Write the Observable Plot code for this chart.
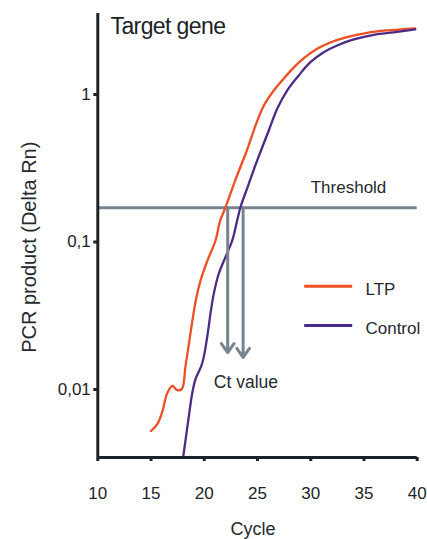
<!DOCTYPE html>
<html><head><meta charset="utf-8">
<script src="https://cdn.jsdelivr.net/npm/d3@7"></script>
<script src="https://cdn.jsdelivr.net/npm/@observablehq/plot@0.6"></script>
<style>
html,body{margin:0;padding:0;background:#fff;}
#chart svg{display:block;}
</style></head><body><div id="chart"></div>
<script>
// ---- data ----
const ltpCycle = [15.0, 15.6, 16.05, 16.5, 17.0, 17.45, 17.9, 18.23, 18.54, 18.86, 19.2, 19.65, 20.3, 21.05, 21.5, 22.0, 22.9, 24.0, 24.9, 25.6, 26.5, 27.5, 28.4, 29.3, 30.6, 31.9, 33.4, 35.3, 37.2, 39.8];
const ltpValue = [0.00523, 0.00585, 0.00702, 0.00936, 0.0106, 0.0099, 0.0101, 0.0143, 0.0200, 0.0285, 0.0401, 0.0548, 0.0749, 0.102, 0.140, 0.172, 0.261, 0.417, 0.64, 0.842, 1.056, 1.29, 1.52, 1.75, 2.04, 2.26, 2.45, 2.62, 2.72, 2.81];
const controlCycle = [17.95, 18.54, 18.86, 19.17, 19.8, 20.27, 20.58, 20.89, 21.36, 21.99, 22.62, 23.09, 23.4, 24.18, 24.97, 26.06, 26.85, 27.78, 28.87, 29.97, 31.22, 32.48, 34.04, 35.92, 37.79, 39.83];
const controlValue = [0.0032, 0.00649, 0.00935, 0.0117, 0.0150, 0.0225, 0.0326, 0.0445, 0.0609, 0.0789, 0.102, 0.140, 0.172, 0.248, 0.357, 0.570, 0.800, 1.064, 1.345, 1.655, 1.936, 2.15, 2.36, 2.54, 2.64, 2.76];

const seriesNames = ["LTP", "Control"];
const seriesColors = ["#f04e23", "#4b2b86"];

const xTicks = [10, 15, 20, 25, 30, 35, 40];
const yTicks = [1, 0.1, 0.01];
const yTickLabels = ["1", "0,1", "0,01"];
const xDomain = [10, 40];
const yDomain = [0.00346, 3.54];

const threshold = 0.171;
const ctCycles = [22.2, 23.65];
const ctArrowEnds = [0.0178, 0.0165];

const titleText = "Target gene";
const xLabel = "Cycle";
const yLabel = "PCR product (Delta Rn)";
const thresholdLabel = "Threshold";
const ctLabel = "Ct value";

// annotation anchors (data units)
const thresholdLabelAt = {cycle: 30, value: threshold};
const ctLabelAt = {cycle: 20.9, value: 0.0112};
const legendCycles = {x1: 29.43, x2: 33.94, text: 35.14};
const legendValues = [0.0501, 0.0272];

// ---- build tables ----
const ltp = ltpCycle.map((c, i) => ({cycle: c, value: ltpValue[i], series: "LTP"}));
const control = controlCycle.map((c, i) => ({cycle: c, value: controlValue[i], series: "Control"}));
const arrows = ctCycles.map((c, i) => ({cycle: c, start: threshold, end: ctArrowEnds[i]}));
const legend = seriesNames.map((n, i) => ({name: n, color: seriesColors[i], value: legendValues[i],
  x1: legendCycles.x1, x2: legendCycles.x2, tx: legendCycles.text}));

const axisColor = "#1c2326";
const textColor = "#262a2d";
const greyColor = "#78848e";

const chart = Plot.plot({
  width: 427, height: 539,
  marginLeft: 97.3, marginRight: 10.3, marginTop: 13, marginBottom: 82,
  style: {fontFamily: "'Liberation Sans', Arial, sans-serif", fontSize: "17px", color: textColor, background: "white", overflow: "visible"},
  x: {domain: xDomain, axis: null},
  y: {type: "log", domain: yDomain, axis: null},
  marks: [
    Plot.ruleY([threshold], {stroke: greyColor, strokeWidth: 3}),
    Plot.line(ltp, {x: "cycle", y: "value", stroke: seriesColors[0], strokeWidth: 2.3, curve: "catmull-rom", clip: true}),
    Plot.line(control, {x: "cycle", y: "value", stroke: seriesColors[1], strokeWidth: 2.3, curve: "catmull-rom", clip: true}),
    Plot.arrow(arrows, {x1: "cycle", y1: "start", x2: "cycle", y2: "end", stroke: greyColor, strokeWidth: 3, headLength: 5.5, headAngle: 70, bend: 0}),
    Plot.axisX({ticks: xTicks, tickSize: 4, tickPadding: 25, fontSize: 17, strokeWidth: 3, color: axisColor, label: null, tickFormat: d => String(d)}),
    Plot.axisY({ticks: yTicks, tickSize: 4, tickPadding: 3, fontSize: 17, strokeWidth: 3, color: axisColor, label: null,
      tickFormat: d => yTickLabels[yTicks.indexOf(d)]}),
    Plot.ruleX([xDomain[0]], {stroke: axisColor, strokeWidth: 3}),
    Plot.ruleY([yDomain[0]], {stroke: axisColor, strokeWidth: 3}),
    Plot.text([titleText], {text: d => d, frameAnchor: "top-left", textAnchor: "start", lineAnchor: "middle", dx: 12.7, dy: 12.9, fontSize: 23, fill: axisColor}),
    Plot.text([yLabel], {text: d => d, frameAnchor: "left", rotate: -90, textAnchor: "middle", lineAnchor: "middle", dx: -68.7, dy: 11.7, fontSize: 20, fill: textColor}),
    Plot.text([xLabel], {text: d => d, frameAnchor: "bottom", textAnchor: "middle", lineAnchor: "middle", dx: -4.5, dy: 71.5, fontSize: 18, fill: textColor}),
    Plot.text([thresholdLabelAt], {x: "cycle", y: "value", text: () => thresholdLabel, textAnchor: "start", lineAnchor: "middle", dy: -19.7, fontSize: 17, fill: textColor}),
    Plot.text([ctLabelAt], {x: "cycle", y: "value", text: () => ctLabel, textAnchor: "start", lineAnchor: "middle", fontSize: 17.5, fill: textColor}),
    Plot.ruleY(legend, {y: "value", x1: "x1", x2: "x2", stroke: "color", strokeWidth: 3}),
    Plot.text(legend, {x: "tx", y: "value", text: "name", textAnchor: "start", lineAnchor: "middle", dy: 3, fontSize: 17, fill: textColor})
  ]
});
d3.select(chart).selectAll("text").filter(function() { return this.textContent === titleText; }).style("letter-spacing", "-0.6px");
document.getElementById("chart").appendChild(chart);
</script>
</body></html>
